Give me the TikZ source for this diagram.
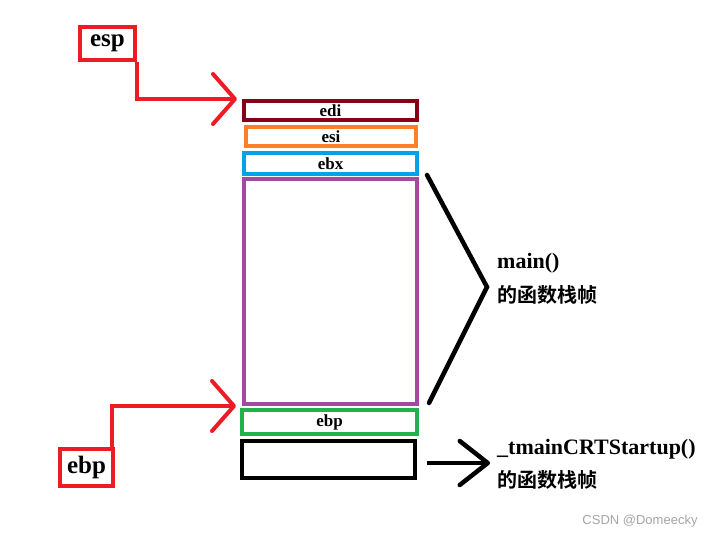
\documentclass[tikz,border=0pt]{standalone}
\usepackage{fontspec}
\setmainfont{Liberation Serif}
\setsansfont{Liberation Sans}
\newfontfamily\cjk{Noto Sans CJK SC}[BoldFont={* Bold}]
\usepackage{xcolor}
\definecolor{cedi}{RGB}{136, 0, 21}
\definecolor{cesi}{RGB}{255, 127, 39}
\definecolor{cebx}{RGB}{0, 162, 232}
\definecolor{cframe}{RGB}{163, 73, 164}
\definecolor{cebp}{RGB}{34, 177, 76}
\definecolor{cptr}{RGB}{237, 28, 36}
\definecolor{cmark}{RGB}{165, 165, 165}
\usetikzlibrary{arrows.meta}

\tikzset{
  reg/.style={draw=#1, line width=4pt, inner sep=0pt,
    font=\fontsize{17}{17}\selectfont\bfseries},
  ptr/.style={draw=cptr, line width=4pt, inner sep=0pt,
    font=\fontsize{25}{25}\selectfont\bfseries},
  ptrarrow/.style={draw=cptr, line width=4pt,
    -{Straight Barb[length=22pt, width=50pt, round]}},
  lbl/.style={anchor=west, inner sep=0pt,
    font=\fontsize{22}{22}\selectfont\bfseries},
  cnlbl/.style={anchor=west, inner sep=0pt,
    font=\cjk\fontsize{20}{20}\selectfont\bfseries}
}

\begin{document}
\begin{tikzpicture}[x=1pt, y=-1pt]
    \useasboundingbox (0,0) rectangle (709,538);

    % stack
    \node[reg=cedi, minimum width=173pt, minimum height=19pt] (edi) at (330.5,110.5) {edi};
    \node[reg=cesi, minimum width=170pt, minimum height=19pt] (esi) at (331,136.5) {esi};
    \node[reg=cebx, minimum width=173pt, minimum height=21pt] (ebx) at (330.5,163.5) {ebx};
    \node[reg=cframe, minimum width=173pt, minimum height=225pt] (frame) at (330.5,291.5) {};
    \node[reg=cebp, minimum width=175pt, minimum height=24pt] (ebp) at (329.5,422) {ebp};
    \node[reg=black, minimum width=173pt, minimum height=37pt] (base) at (328.5,459.5) {};

    % pointers
    \node[ptr, minimum width=55pt, minimum height=33pt] (espptr) at (107.5,43.5) {esp};
    \node[ptr, minimum width=53pt, minimum height=37pt] (ebpptr) at (86.5,467.5) {ebp};
    \coordinate (esptip) at (237,99);
    \coordinate (ebptip) at (236,406);
    \draw[ptrarrow] (espptr.south east) |- (esptip);
    \draw[ptrarrow] ([xshift=-3pt]ebpptr.north east) |- (ebptip);

    % frames
    \coordinate (mtip) at (487,287);
    \coordinate (ctip) at (490,463);
    \draw[line width=4.5pt, line cap=round, line join=miter]
      ([xshift=8pt, yshift=2pt]frame.north east) -- (mtip)
      -- ([xshift=10pt, yshift=3pt]frame.south east);
    \draw[line width=4.5pt, -{Straight Barb[length=28pt, width=44pt, round]}]
      ([xshift=10pt, yshift=-3.5pt]base.east) -- (ctip);

    \node[lbl] (mainlbl) at (497,263) {main()};
    \node[cnlbl] (maincn) at (497,295) {的函数栈帧};
    \node[lbl] (crtlbl) at (497,449) {\_tmainCRTStartup()};
    \node[cnlbl] (crtcn) at (497,480) {的函数栈帧};

    \node[text=cmark, font=\sffamily\fontsize{13}{13}\selectfont] (mark) at (640,521) {CSDN @Domeecky};
  \end{tikzpicture}
\end{document}
